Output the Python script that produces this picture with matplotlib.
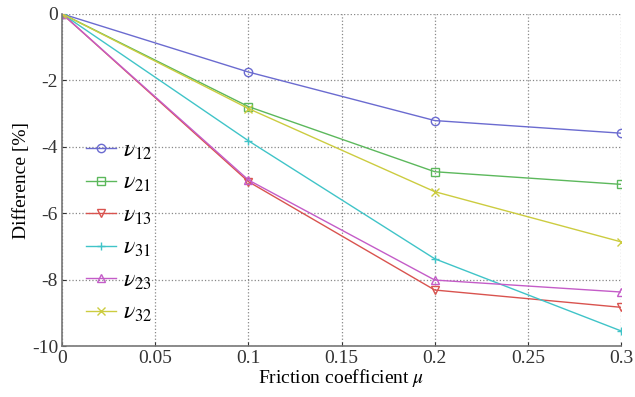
import matplotlib
matplotlib.use('Agg')
import matplotlib.pyplot as plt

plt.rcParams['font.family'] = ['Liberation Serif', 'DejaVu Serif']
plt.rcParams['mathtext.fontset'] = 'stix'

mu = [0, 0.1, 0.2, 0.3]
nu12 = [0, -1.75, -3.21, -3.59]
nu21 = [0, -2.79, -4.75, -5.13]
nu13 = [0, -5.05, -8.31, -8.83]
nu31 = [0, -3.82, -7.37, -9.54]
nu23 = [0, -5.00, -8.01, -8.37]
nu32 = [0, -2.85, -5.35, -6.86]

series = [
    (nu12, r'$\nu_{12}$', 'o', '#6b6bd0'),
    (nu21, r'$\nu_{21}$', 's', '#5cb85c'),
    (nu13, r'$\nu_{13}$', 'v', '#d9534f'),
    (nu31, r'$\nu_{31}$', '+', '#40c4c8'),
    (nu23, r'$\nu_{23}$', '^', '#c45cc8'),
    (nu32, r'$\nu_{32}$', 'x', '#cccc40'),
]

fig = plt.figure(figsize=(6.35, 3.97), dpi=100)
ax = fig.add_axes([0.098, 0.128, 0.880, 0.837])

for y, lab, mk, col in series:
    ax.plot(mu, y, color=col, marker=mk, markersize=6, markerfacecolor='none',
            markeredgecolor=col, linewidth=1.0, label=lab)

ax.set_xlim(0, 0.3)
ax.set_ylim(-10, 0)
ax.set_xticks([0, 0.05, 0.1, 0.15, 0.2, 0.25, 0.3])
ax.set_xticklabels(['0', '0.05', '0.1', '0.15', '0.2', '0.25', '0.3'])
ax.set_yticks([0, -2, -4, -6, -8, -10])
ax.set_yticklabels(['0', '-2', '-4', '-6', '-8', '-10'])
ax.tick_params(direction='in', length=3, labelsize=14, colors='#333333', pad=3)
ax.grid(True, linestyle=':', color='#888888', linewidth=0.9)

for s in ['top', 'right']:
    ax.spines[s].set_visible(False)
for s in ['left', 'bottom']:
    ax.spines[s].set_color('#777777')
    ax.spines[s].set_linewidth(1.2)

ax.set_xlabel(r'Friction coefficient $\mu$', fontsize=14, labelpad=0)
ax.set_ylabel('Difference [%]', fontsize=14, labelpad=1)

ax.legend(loc='lower left', bbox_to_anchor=(0.025, 0.038), frameon=False,
          fontsize=17, handlelength=1.3, handletextpad=0.3,
          labelspacing=0.45, borderaxespad=0)

fig.savefig('out.png', dpi=100)
